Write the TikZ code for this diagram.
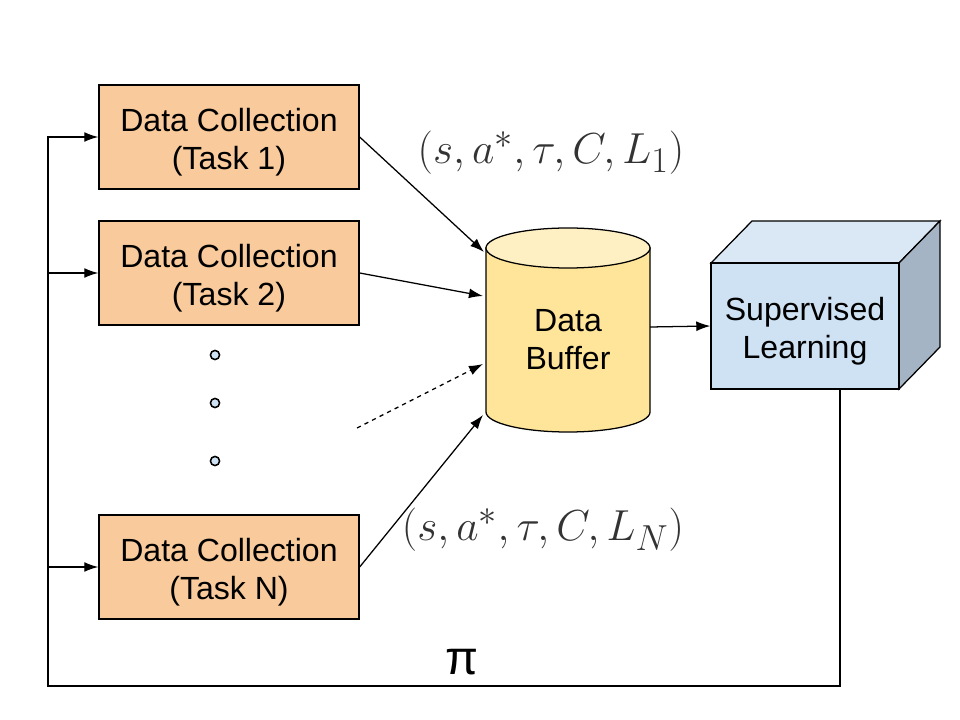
\documentclass[tikz,border=0pt]{standalone}
\usepackage{amsmath}
\usepackage{fontspec}
\setmainfont{Liberation Sans}
\usetikzlibrary{arrows.meta}

\definecolor{taskorange}{HTML}{F9CB9C}
\definecolor{bufyellow}{HTML}{FFE599}
\definecolor{buftop}{HTML}{FFF0C4}
\definecolor{cubefront}{HTML}{CFE2F3}
\definecolor{cubetop}{HTML}{DAE8F5}
\definecolor{cubeside}{HTML}{A4B4C4}
\definecolor{dotblue}{HTML}{CFE2F3}

% raises the first line box so the text sits a bit lower
\newcommand{\lowtext}[1]{\rule{0pt}{#1}}

\begin{document}
\begin{tikzpicture}[x=0.025cm, y=-0.025cm, line width=0.9pt,
		box_text/.style={align=center,font=\fontsize{22.8}{27}\selectfont},
		task_style/.style={rectangle,draw=black,fill=taskorange,minimum width=6.5cm,minimum height=2.6cm,box_text},
		tuple_style/.style={text=black!80,font=\fontsize{24.88}{30}\selectfont,scale=1.24},
		dot_style/.style={circle,draw=black,fill=dotblue,inner sep=0pt,minimum size=6.5pt,line width=1.1pt},
		edge_style/.style={draw=black,-{Latex[length=10pt,width=7pt]}}]

		\useasboundingbox (0,0) rectangle (960,720);

		\node[task_style] (t1) at (229,137)  {\lowtext{24pt}Data Collection\\(Task 1)};
		\node[task_style] (t2) at (229,273)  {\lowtext{24pt}Data Collection\\(Task 2)};
		\node[task_style] (tn) at (229,567)  {\lowtext{24pt}Data Collection\\(Task N)};

		% buffer cylinder
		\filldraw[fill=bufyellow] (486,248) -- (486,412) arc[start angle=180,end angle=360,x radius=2.05cm,y radius=0.5cm] -- (650,248) -- cycle;
		\filldraw[fill=buftop] (568,248) ellipse [x radius=2.05cm,y radius=0.5cm];
		\node[box_text] (buf) at (568,340)  {Data\\Buffer};

		% cube
		\filldraw[fill=cubetop] (711,263) -- (752,221) -- (940,221) -- (899,263) -- cycle;
		\filldraw[fill=cubeside] (899,263) -- (940,221) -- (940,347) -- (899,389) -- cycle;
		\node[rectangle,draw=black,fill=cubefront,minimum width=4.7cm,minimum height=3.15cm,box_text] (sl) at (805,326) {\lowtext{24pt}Supervised\\Learning};

		\node[dot_style] (d1) at (215,355) {};
		\node[dot_style] (d2) at (215,403) {};
		\node[dot_style] (d3) at (215,461) {};

		\node[tuple_style] (l1) at (551,153) {$(s,a^*,\tau,C,L_1)$};
		\node[tuple_style] (ln) at (543,530) {$(s,a^*,\tau,C,L_N)$};
		\node[font=\fontsize{34}{40}\selectfont] (pi) at (462,662) {π};

		\coordinate (c1) at (484,252);
		\coordinate (c2) at (483,296);
		\coordinate (c3) at (483,364);
		\coordinate (c4) at (483,415);
		\coordinate (be) at (650,327);
		\coordinate (ds) at (357,428);
		\coordinate (fb) at (840,686);
		\coordinate (fl) at (48,686);
		\coordinate (ft) at (48,137);
		\coordinate (f2) at (48,273);
		\coordinate (fn) at (48,567);

		\draw[edge_style]  (t1.east) -- (c1);
		\draw[edge_style]  (t2.east) -- (c2);
		\draw[edge_style, dashed]  (ds) -- (c3);
		\draw[edge_style]  (tn.east) -- (c4);
		\draw[edge_style]  (be) -- (sl.west);
		\draw[edge_style]  (sl.south -| fb) -- (fb) -- (fl) -- (ft) -- (t1.west);
		\draw[edge_style]  (f2) -- (t2.west);
		\draw[edge_style]  (fn) -- (tn.west);

\end{tikzpicture}
\end{document}
